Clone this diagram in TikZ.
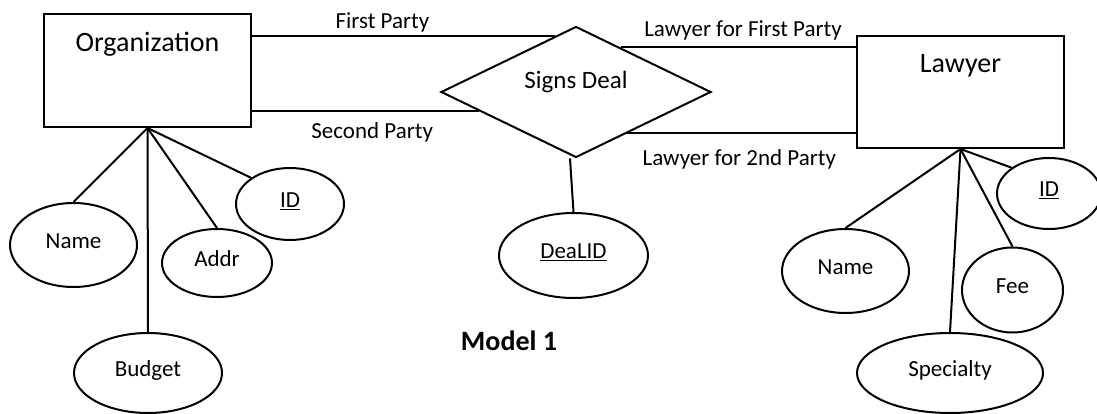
\documentclass[tikz,border=0pt]{standalone}
\usepackage{fontspec}
\setmainfont{Carlito}
\usetikzlibrary{shapes.geometric,positioning}

\tikzset{
  entity/.style={draw, rectangle, line width=2pt, minimum width=207pt, minimum height=113pt, inner sep=0pt},
  ename/.style={inner sep=0pt, font=\fontsize{28}{32}\selectfont},
  rel/.style={draw, diamond, line width=2pt, aspect=2.06, minimum width=270pt, minimum height=131pt, inner sep=0pt, font=\fontsize{25}{29}\selectfont},
  attr/.style={draw, ellipse, line width=2pt, inner sep=0pt, text depth=8pt, font=\fontsize{23}{27}\selectfont},
  lbl/.style={inner sep=2pt, font=\fontsize{23}{27}\selectfont},
  conn/.style={line width=2pt},
}

\begin{document}
\begin{tikzpicture}[x=1pt,y=-1pt]
\useasboundingbox (0,0) rectangle (1097,414);

% entities and relationship
\node[entity] (org) at (147.5,70.5) {};
\node[ename, below=19pt of org.north] (orgname) {Organization};
\node[entity, minimum height=112pt] (law) at (960.5,92) {};
\node[ename, below=19pt of law.north] (lawname) {Lawyer};
\node[rel, text depth=25pt] (deal) at (576,92) {Signs Deal};

% attributes
\node[attr, minimum width=127pt, minimum height=84pt] (oname) at (73.5,245) {Name};
\node[attr, minimum width=148pt, minimum height=80pt] (obudget) at (148,373) {Budget};
\node[attr, minimum width=110pt, minimum height=68pt] (oaddr) at (217,263) {Addr};
\node[attr, minimum width=108pt, minimum height=72pt] (oid) at (290,204) {\underline{ID}};
\node[attr, minimum width=149pt, minimum height=85pt] (dealid) at (573.5,255.5) {\underline{DeaLID}};
\node[attr, minimum width=127pt, minimum height=84pt] (lname) at (845.5,271) {Name};
\node[attr, minimum width=186pt, minimum height=80pt] (lspec) at (950,373) {Specialty};
\node[attr, minimum width=101pt, minimum height=85pt] (lfee) at (1012.5,290) {Fee};
\node[attr, minimum width=104pt, minimum height=71pt] (lid) at (1049,193.5) {\underline{ID}};

\node[font=\fontsize{28}{32}\selectfont\bfseries] (model) at (509,341) {Model 1};

% relationship lines
\draw[conn] (deal.110 -| org.east) -- node[lbl, above, pos=0.43] (lfirst) {First Party} (deal.110);
\draw[conn] (deal.191 -| org.east) -- node[lbl, below=9pt, pos=0.53] (lsecond) {Second Party} (deal.191);
\draw[conn] (deal.45) -- node[lbl, above=4pt, pos=0.52] (llawfirst) {Lawyer for First Party} (deal.45 -| law.west);
\draw[conn] (deal.-39) -- node[lbl, below=13pt, pos=0.49] (llawsecond) {Lawyer for 2nd Party} (deal.-39 -| law.west);

% attribute lines
\draw[conn] (org.south) -- (oname.north);
\draw[conn] (org.south) -- (obudget.north);
\draw[conn] (org.south) -- (oaddr.north);
\draw[conn] (org.south) -- (oid.north west);
\draw[conn] ([xshift=-6pt]deal.south) -- (dealid.north);
\draw[conn] (law.south) -- (lname.north);
\draw[conn] (law.south) -- (lspec.north);
\draw[conn] (law.south) -- (lfee.north);
\draw[conn] (law.south) -- (lid.north west);
\end{tikzpicture}
\end{document}
